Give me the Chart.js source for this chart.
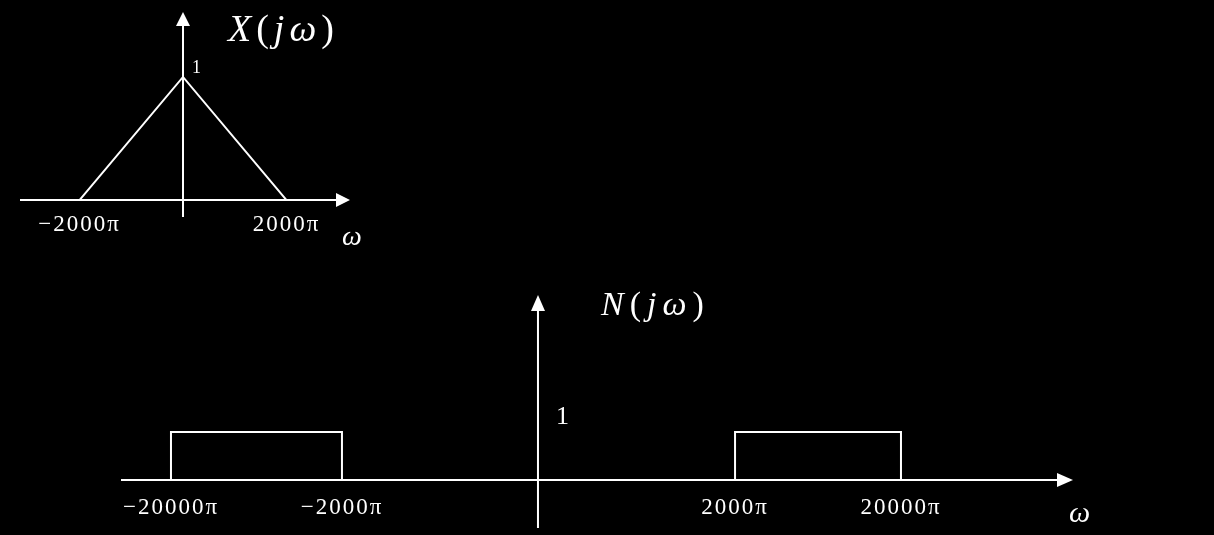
<!DOCTYPE html>
<html><head><meta charset="utf-8">
<script src="https://cdn.jsdelivr.net/npm/chart.js@4.4.1/dist/chart.umd.min.js"></script>
<style>
html,body{margin:0;padding:0;background:#000;width:1214px;height:535px;overflow:hidden}
canvas{position:absolute;left:0;top:0}
</style></head><body>
<canvas id="cx" width="1214" height="535"></canvas>
<canvas id="cn" width="1214" height="535"></canvas>
<script>
// ---------- data (ω in units of π) ----------
// X(jω): triangular spectrum
const xOmega = [-2000, 0, 2000];
const xMag   = [0, 1, 0];
const xTickValues = [-2000, 2000];
// N(jω): two rectangular noise bands
const nLeftOmega  = [-20000, -20000, -2000, -2000];
const nLeftMag    = [0, 1, 1, 0];
const nRightOmega = [2000, 2000, 20000, 20000];
const nRightMag   = [0, 1, 1, 0];
const nTickValues = [-20000, -2000, 2000, 20000];
// text
const xTitleRuns = [['X', 'italic'], ['(', 'normal'], ['j', 'italic'], ['ω', 'italic'], [')', 'normal']];
const nTitleRuns = [['N', 'italic'], ['(', 'normal'], ['j', 'italic'], ['ω', 'italic'], [')', 'normal']];
const peakLabel = '1';
const axisLabel = 'ω';

const SERIF = '"Liberation Serif", "Times New Roman", serif';
const fmtPi = v => (v < 0 ? '\u2212' : '') + Math.abs(v) + 'π';
const pts = (xs, ys) => xs.map((w, i) => ({x: w, y: ys[i]}));

// schematic (not-to-scale) axis: piecewise linear mapping between knots
class PiecewiseScale extends Chart.LinearScale {
  _dec(v) {
    const vs = this.options.knotValues, fs = this.options.knotFractions;
    let i = 0;
    while (i < vs.length - 2 && v > vs[i + 1]) i++;
    return fs[i] + (v - vs[i]) * (fs[i + 1] - fs[i]) / (vs[i + 1] - vs[i]);
  }
  getPixelForValue(v) { return this.getPixelForDecimal(this._dec(v)); }
  getValueForPixel(p) {
    const d = this.getDecimalForPixel(p);
    const vs = this.options.knotValues, fs = this.options.knotFractions;
    let i = 0;
    while (i < fs.length - 2 && d > fs[i + 1]) i++;
    return vs[i] + (d - fs[i]) * (vs[i + 1] - vs[i]) / (fs[i + 1] - fs[i]);
  }
}
PiecewiseScale.id = 'piecewise';
PiecewiseScale.defaults = Chart.LinearScale.defaults;
Chart.register(PiecewiseScale);

const sketch = {
  id: 'sketch',
  beforeDraw(chart) { chart.ctx.letterSpacing = '2px'; },
  afterDraw(chart, args, o) {
    const {ctx, chartArea: a, scales: {x, y}} = chart;
    const x0 = x.getPixelForValue(0), y0 = y.getPixelForValue(0), y1 = y.getPixelForValue(1);
    ctx.save();
    ctx.letterSpacing = '0px';
    ctx.strokeStyle = '#fff'; ctx.fillStyle = '#fff'; ctx.lineWidth = 2;
    ctx.beginPath();
    ctx.moveTo(a.left, y0); ctx.lineTo(a.right - o.head + 1, y0);
    ctx.moveTo(x0, a.bottom); ctx.lineTo(x0, a.top + o.head - 1);
    ctx.stroke();
    ctx.beginPath();
    ctx.moveTo(a.right, y0); ctx.lineTo(a.right - o.head, y0 - o.hw); ctx.lineTo(a.right - o.head, y0 + o.hw);
    ctx.closePath(); ctx.fill();
    ctx.beginPath();
    ctx.moveTo(x0, a.top); ctx.lineTo(x0 - o.hw, a.top + o.head); ctx.lineTo(x0 + o.hw, a.top + o.head);
    ctx.closePath(); ctx.fill();
    ctx.textAlign = 'left'; ctx.textBaseline = 'alphabetic';
    // "1" label
    ctx.font = o.oneSize + 'px ' + SERIF;
    ctx.fillText(peakLabel, x0 + o.oneDx, y1 - o.oneDy);
    // ω label at the end of the horizontal axis
    ctx.font = 'italic ' + o.wSize + 'px ' + SERIF;
    ctx.fillText(axisLabel, a.right + o.wDx, y0 + o.wDy);
    // title
    let tx = x0 + o.tDx;
    const ty = a.top + o.tDy;
    o.runs.forEach(([t, st]) => {
      ctx.font = st + ' ' + o.tSize + 'px ' + SERIF;
      ctx.fillText(t, tx, ty);
      tx += ctx.measureText(t).width + o.tGap;
    });
    ctx.restore();
  }
};

const lineDs = d => ({data: d, borderColor: '#fff', borderWidth: 2, pointRadius: 0, tension: 0,
  fill: false, borderJoinStyle: 'miter', showLine: true});
const tickOpts = (size, pad) => ({color: '#fff', font: {family: SERIF, size: size}, padding: pad,
  autoSkip: false, maxRotation: 0, callback: fmtPi});

new Chart(document.getElementById('cx'), {
  type: 'line',
  data: {datasets: [lineDs(pts(xOmega, xMag))]},
  options: {
    responsive: false, animation: false, events: [],
    layout: {padding: {left: 20, top: 12, right: 864, bottom: 318}},
    plugins: {legend: {display: false}, tooltip: {enabled: false},
      sketch: {head: 14, hw: 7, oneSize: 18, oneDx: 9, oneDy: 4, wSize: 28, wDx: -8, wDy: 45,
        runs: xTitleRuns, tSize: 38, tDx: 45, tDy: 29, tGap: 5}},
    scales: {
      x: {type: 'linear', min: -3150, max: 3227, position: {y: 0},
        grid: {display: false, drawTicks: false}, border: {display: false},
        afterBuildTicks: s => { s.ticks = xTickValues.map(v => ({value: v})); },
        ticks: tickOpts(23, 11)},
      y: {type: 'linear', min: -0.138, max: 1.528, display: false}
    }
  },
  plugins: [sketch]
});

new Chart(document.getElementById('cn'), {
  type: 'line',
  data: {datasets: [lineDs(pts(nLeftOmega, nLeftMag)), lineDs(pts(nRightOmega, nRightMag))]},
  options: {
    responsive: false, animation: false, events: [],
    layout: {padding: {left: 121, top: 295, right: 141, bottom: 7}},
    plugins: {legend: {display: false}, tooltip: {enabled: false},
      sketch: {head: 16, hw: 7, oneSize: 26, oneDx: 18, oneDy: 8, wSize: 30, wDx: -4, wDy: 42,
        runs: nTitleRuns, tSize: 34, tDx: 63, tDy: 20, tGap: 6}},
    scales: {
      x: {type: 'piecewise', min: -25300, max: 38700, position: {y: 0},
        knotValues: [-20000, -2000, 0, 2000, 20000],
        knotFractions: [0.0525, 0.2321, 0.4380, 0.6450, 0.8193],
        grid: {display: false, drawTicks: false}, border: {display: false},
        afterBuildTicks: s => { s.ticks = nTickValues.map(v => ({value: v})); },
        ticks: tickOpts(23, 14)},
      y: {type: 'linear', min: -1, max: 3.854, display: false}
    }
  },
  plugins: [sketch]
});
</script>
</body></html>
